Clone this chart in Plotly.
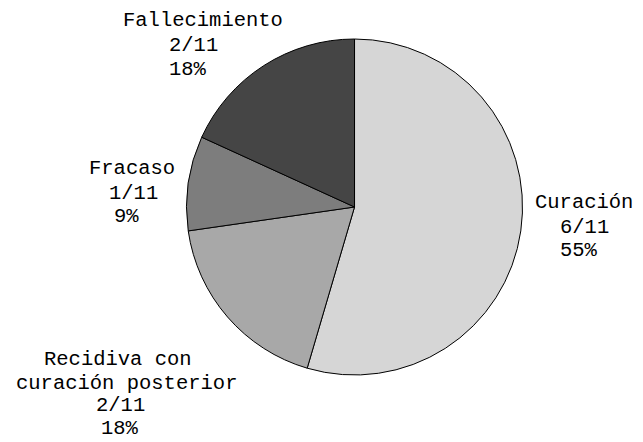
import plotly.graph_objects as go

categories = ["Curación", "Recidiva con curación posterior", "Fracaso", "Fallecimiento"]
label_lines = [["Curación"], ["Recidiva con", "curación posterior"], ["Fracaso"], ["Fallecimiento"]]
values = [6, 2, 1, 2]
colors = ["#d6d6d6", "#a8a8a8", "#7d7d7d", "#454545"]
total = sum(values)

W, H = 643, 442
T, B = 39, 67

fig = go.Figure(go.Pie(
    labels=categories,
    values=values,
    sort=False,
    direction="clockwise",
    rotation=0,
    marker=dict(colors=colors, line=dict(color="black", width=1)),
    textinfo="none",
    showlegend=False,
    domain=dict(x=[0.2, 0.9027], y=[0, 1]),
    hoverinfo="skip",
))

# label line placements (pixel left edge, pixel center y) per category line
placements = {
    "Curación": [(534, 202), (559, 227), (559, 250)],
    "Recidiva con curación posterior": [(43, 359), (15, 383), (95, 406), (100, 428)],
    "Fracaso": [(88, 168), (108, 193), (113, 216)],
    "Fallecimiento": [(122, 21), (168, 45), (168, 69)],
}

font = dict(family="Liberation Mono, Courier New, monospace", size=20.5, color="black")
annotations = []
for cat, lines, v in zip(categories, label_lines, values):
    texts = lines + [f"{v}/{total}", f"{round(100 * v / total)}%"]
    for txt, (px, py) in zip(texts, placements[cat]):
        annotations.append(dict(
            text=txt, xref="paper", yref="paper",
            x=px / W, y=(H - B - py) / (H - T - B),
            xanchor="left", yanchor="middle", showarrow=False,
            font=font, borderpad=0,
        ))

fig.update_layout(
    width=W, height=H,
    margin=dict(l=0, r=0, t=T, b=B),
    paper_bgcolor="white", plot_bgcolor="white",
    annotations=annotations,
)

fig.write_html("out.html")
